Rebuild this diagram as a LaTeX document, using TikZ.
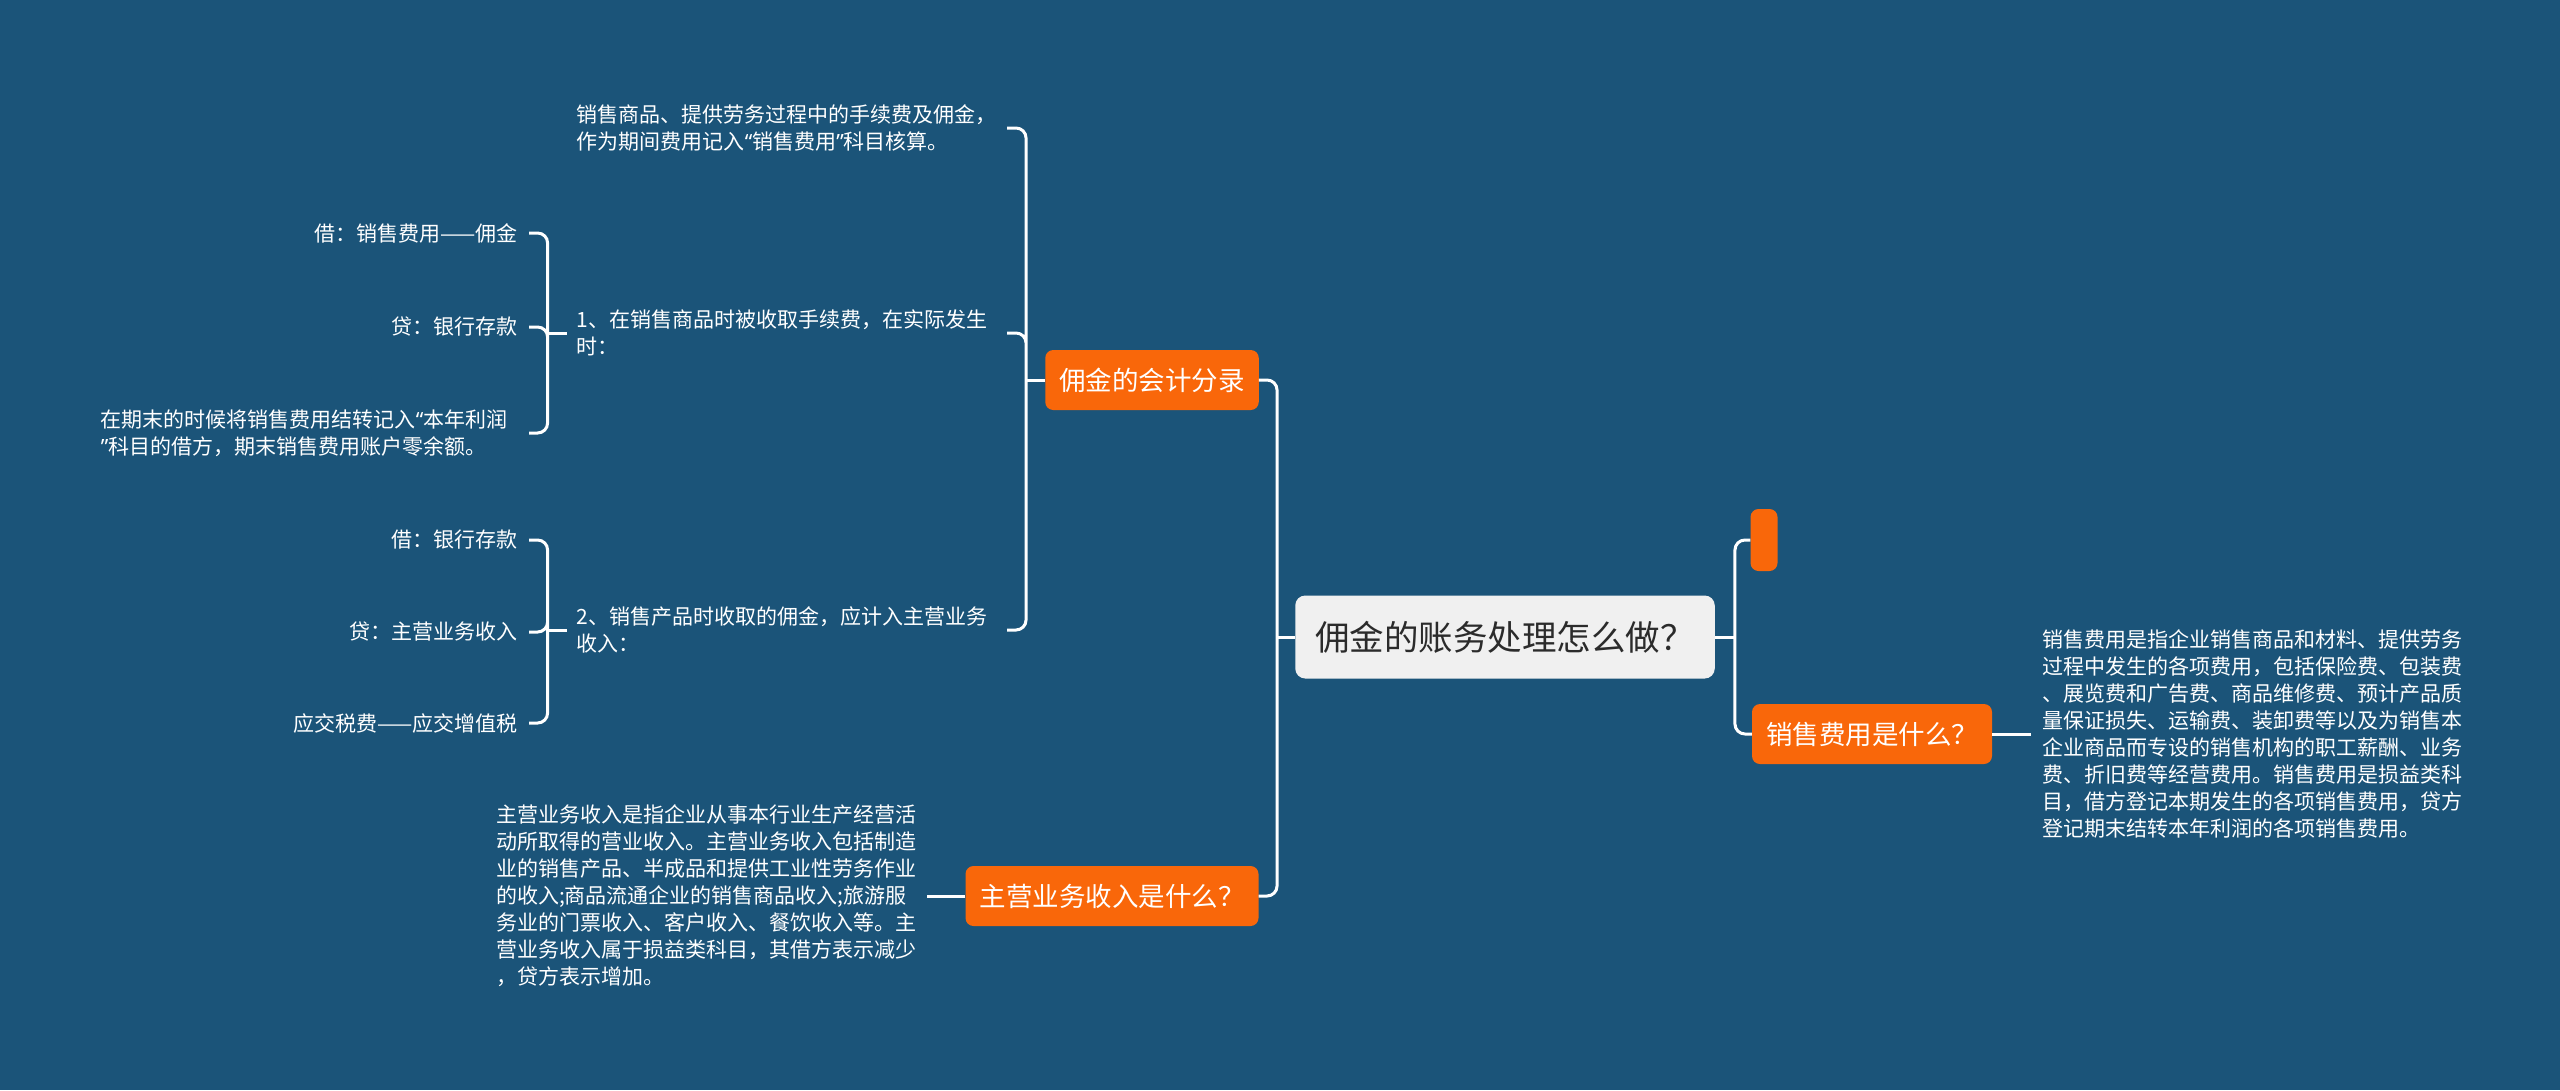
\documentclass[tikz,border=0pt]{standalone}
\usepackage{fontspec}
\setmainfont{Noto Sans CJK SC}
\newfontfamily\quotefont{Noto Sans}
\usetikzlibrary{positioning}
\definecolor{mapBlue}{HTML}{1B5479}
\definecolor{topicOrange}{HTML}{F9670A}
\definecolor{rootGrey}{HTML}{F0F0F0}
\definecolor{rootText}{HTML}{2B2B2B}
\newcommand{\qopen}{{\quotefont “}}
\newcommand{\qclose}{{\quotefont ”}}

\begin{document}
\begin{tikzpicture}[x=1pt, y=-1pt,
    link/.style={draw=white, line width=3pt, rounded corners=10pt},
    rootbox/.style={fill=rootGrey, text=rootText, rounded corners=10pt,
      font=\fontsize{34.5}{40}\selectfont, inner xsep=20pt, minimum height=83pt},
    topic/.style={fill=topicOrange, text=white, rounded corners=8pt,
      font=\fontsize{26.5}{30}\selectfont, inner xsep=14pt, minimum height=60pt},
    leaf/.style={text=white, font=\fontsize{21}{27}\selectfont, align=left,
      inner xsep=11pt, inner ysep=4pt},
    sub/.style={leaf, text width=420pt, inner xsep=10pt}]
    \fill[mapBlue, use as bounding box] (0,0) rectangle (2560,1090);

    \node[rootbox] (root) at (1505,637) {佣金的账务处理怎么做？};
    \node[topic] (acct) at (1152,380) {佣金的会计分录};
    \node[topic] (rev) at (1112,896) {主营业务收入是什么？};
    \node[topic, minimum width=27pt, minimum height=62pt, inner sep=0pt] (blank) at (1764,540) {};
    \node[topic] (sell) at (1872,734) {销售费用是什么？};

    \node[leaf, right=39pt of sell] (selltext)
      {销售费用是指企业销售商品和材料、提供劳务\\过程中发生的各项费用，包括保险费、包装费\\、展览费和广告费、商品维修费、预计产品质\\量保证损失、运输费、装卸费等以及为销售本\\企业商品而专设的销售机构的职工薪酬、业务\\费、折旧费等经营费用。销售费用是损益类科\\目，借方登记本期发生的各项销售费用，贷方\\登记期末结转本年利润的各项销售费用。};
    \node[leaf, left=38pt of rev] (revtext)
      {主营业务收入是指企业从事本行业生产经营活\\动所取得的营业收入。主营业务收入包括制造\\业的销售产品、半成品和提供工业性劳务作业\\的收入;商品流通企业的销售商品收入;旅游服\\务业的门票收入、客户收入、餐饮收入等。主\\营业务收入属于损益类科目，其借方表示减少\\，贷方表示增加。};

    \node[sub, anchor=east] (fee) at (1007,128)
      {销售商品、提供劳务过程中的手续费及佣金，\\作为期间费用记入\qopen 销售费用\qclose 科目核算。};
    \node[sub, anchor=east] (onsale) at (1007,333)
      {1、在销售商品时被收取手续费，在实际发生\\时：};
    \node[sub, anchor=east] (onprod) at (1007,630)
      {2、销售产品时收取的佣金，应计入主营业务\\收入：};

    \node[leaf, anchor=east] (dr1) at (529,233) {借：销售费用——佣金};
    \node[leaf, anchor=east] (cr1) at (529,327) {贷：银行存款};
    \node[leaf, anchor=east, text width=417pt] (close1) at (529,433)
      {在期末的时候将销售费用结转记入\qopen 本年利润\\\qclose 科目的借方，期末销售费用账户零余额。};
    \node[leaf, anchor=east] (dr2) at (529,540) {借：银行存款};
    \node[leaf, anchor=east] (cr2) at (529,632) {贷：主营业务收入};
    \node[leaf, anchor=east] (tax2) at (529,723) {应交税费——应交增值税};

    \draw[link] (root.west) -- ++(-18,0);
    \draw[link] ([xshift=-18pt]root.west) |- (acct.east)
      ([xshift=-18pt]root.west) |- (rev.east);
    \draw[link] (root.east) -- ++(20,0);
    \draw[link] ([xshift=20pt]root.east) |- (blank.west)
      ([xshift=20pt]root.east) |- (sell.west);
    \draw[link] (sell.east) -- (selltext.west);
    \draw[link] (rev.west) -- (revtext.east);

    \draw[link] (acct.west) -- ++(-19,0);
    \draw[link] ([xshift=-19pt]acct.west) |- (fee.east)
      ([xshift=-19pt]acct.west) |- (onsale.east)
      ([xshift=-19pt]acct.west) |- (onprod.east);
    \draw[link] (onsale.west) -- ++(-19,0);
    \draw[link] ([xshift=-19pt]onsale.west) |- (dr1.east)
      ([xshift=-19pt]onsale.west) |- (cr1.east)
      ([xshift=-19pt]onsale.west) |- (close1.east);
    \draw[link] (onprod.west) -- ++(-19,0);
    \draw[link] ([xshift=-19pt]onprod.west) |- (dr2.east)
      ([xshift=-19pt]onprod.west) |- (cr2.east)
      ([xshift=-19pt]onprod.west) |- (tax2.east);
\end{tikzpicture}
\end{document}
